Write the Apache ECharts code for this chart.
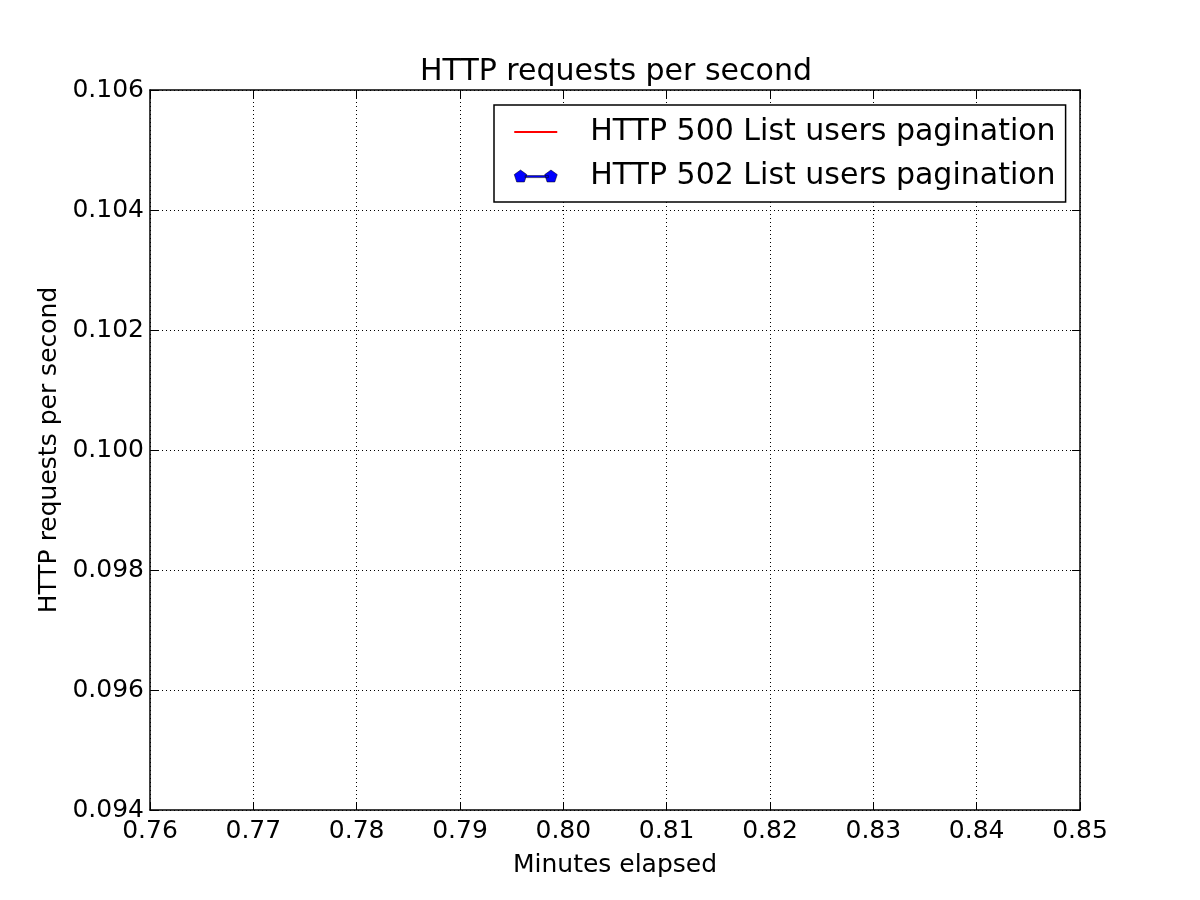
<!DOCTYPE html>
<html>
<head>
<meta charset="utf-8">
<script src="https://cdn.jsdelivr.net/npm/echarts@6/dist/echarts.min.js"></script>
<style>html,body{margin:0;padding:0;background:#fff;}#c{width:1200px;height:900px;}</style>
</head>
<body>
<div id="c"></div>
<script>
// Data (no visible marks inside the plot area)
var seriesNames = ['HTTP 500 List users pagination', 'HTTP 502 List users pagination'];
var minutes500 = [0.805];
var http500 = [0.1];
var minutes502 = [];
var http502 = [];
var xTicks = [0.76, 0.77, 0.78, 0.79, 0.80, 0.81, 0.82, 0.83, 0.84, 0.85];
var yTicks = [0.094, 0.096, 0.098, 0.100, 0.102, 0.104, 0.106];

function pairs(xs, ys) { return xs.map(function (x, i) { return [x, ys[i]]; }); }

var FONT = 'DejaVu Sans';
var pent = 'path://M6,0L11.7,4.15L9.53,10.85L2.47,10.85L0.3,4.15Z';
var legendBlue = 'path://M6.5,0.5L12.7,5L10.3,12.3L2.7,12.3L0.3,5Z' +
  'M11,6L34,6L34,8L11,8Z' +
  'M36.5,0.5L42.7,5L40.3,12.3L32.7,12.3L30.3,5Z';

var chart = echarts.init(document.getElementById('c'), null, {renderer: 'canvas'});
var axisCommon = {
  axisLine: {show: true, lineStyle: {color: '#000', width: 1.5}},
  axisTick: {show: true, inside: true, length: 8, lineStyle: {color: '#000', width: 1}},
  splitLine: {show: false}
};
chart.setOption({
  animation: false,
  backgroundColor: '#fff',
  title: {
    text: 'HTTP requests per second',
    left: 611, textAlign: 'center', top: 52,
    textStyle: {fontFamily: FONT, fontSize: 30, fontWeight: 'normal', color: '#000'}
  },
  legend: {
    orient: 'vertical',
    left: 494, top: 105,
    padding: [12, 10, 11, 20],
    itemGap: 14,
    itemWidth: 43, itemHeight: 13,
    backgroundColor: '#fff',
    borderColor: '#000', borderWidth: 1.5, borderRadius: 0,
    textStyle: {fontFamily: FONT, fontSize: 30, color: '#000', lineHeight: 30, padding: [0, 0, 0, 28]},
    data: [
      {name: seriesNames[0], icon: 'path://M0,5.6L43,5.6L43,7.4L0,7.4Z', itemStyle: {color: '#ff0000'}},
      {name: seriesNames[1], icon: legendBlue, itemStyle: {color: '#0000ff', borderColor: '#000', borderWidth: 0.5}}
    ]
  },
  grid: {left: 150, right: 120, top: 90, bottom: 90, show: false},
  xAxis: [
    Object.assign({
      type: 'value', min: 0.76, max: 0.85, interval: 0.01,
      name: 'Minutes elapsed', nameLocation: 'middle', nameGap: 43,
      nameTextStyle: {fontFamily: FONT, fontSize: 25, color: '#000'},
      axisLabel: {fontFamily: FONT, fontSize: 25, color: '#000', margin: 9,
        formatter: function (v) { return v.toFixed(2); }},
      splitLine: {show: true, lineStyle: {color: '#000', type: [1, 3], width: 1}}
    }, {axisLine: axisCommon.axisLine, axisTick: axisCommon.axisTick}),
    Object.assign({
      type: 'value', min: 0.76, max: 0.85, interval: 0.01, position: 'top',
      axisLabel: {show: false}, splitLine: {show: false}
    }, {axisLine: axisCommon.axisLine, axisTick: axisCommon.axisTick})
  ],
  yAxis: [
    Object.assign({
      type: 'value', min: 0.094, max: 0.106, interval: 0.002,
      name: 'HTTP requests per second', nameLocation: 'middle', nameGap: 81,
      nameTextStyle: {fontFamily: FONT, fontSize: 25, color: '#000'},
      axisLabel: {fontFamily: FONT, fontSize: 25, color: '#000', margin: 6,
        formatter: function (v) { return v.toFixed(3); }},
      splitLine: {show: true, lineStyle: {color: '#000', type: [1, 3], width: 1}}
    }, {axisLine: axisCommon.axisLine, axisTick: axisCommon.axisTick}),
    Object.assign({
      type: 'value', min: 0.094, max: 0.106, interval: 0.002, position: 'right',
      axisLabel: {show: false}, splitLine: {show: false}
    }, {axisLine: axisCommon.axisLine, axisTick: axisCommon.axisTick})
  ],
  series: [
    {
      name: seriesNames[0], type: 'line', symbol: 'none',
      lineStyle: {color: '#ff0000', width: 1.5}, itemStyle: {color: '#ff0000'},
      data: pairs(minutes500, http500)
    },
    {
      name: seriesNames[1], type: 'line', symbol: pent, symbolSize: 12,
      lineStyle: {color: '#0000ff', width: 1.5},
      itemStyle: {color: '#0000ff', borderColor: '#000', borderWidth: 0.5},
      data: pairs(minutes502, http502)
    }
  ]
});
</script>
</body>
</html>
